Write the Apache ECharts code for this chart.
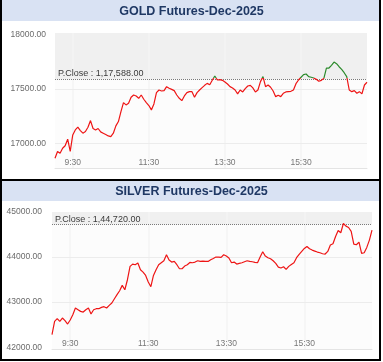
<!DOCTYPE html>
<html>
<head>
<meta charset="utf-8">
<script src="https://cdn.jsdelivr.net/npm/echarts@6/dist/echarts.min.js"></script>
<style>
html,body{margin:0;padding:0;background:#fff;}
#chart{width:383px;height:362px;}
</style>
</head>
<body>
<div id="chart"></div>
<script>
// ---- data ----
const goldTitle = 'GOLD Futures-Dec-2025';
const silverTitle = 'SILVER Futures-Dec-2025';
const goldPrevClose = 117588;
const silverPrevClose = 144720;
const timeTickLabels = ['9:30', '11:30', '13:30', '15:30'];
const goldYTicks = [117000, 117500, 118000];
const silverYTicks = [142000, 143000, 144000, 145000];
// time categories: 4-minute steps from 9:02 to 17:14
const times = [];
for (let m = 9 * 60 + 2; m <= 17 * 60 + 14; m += 4) {
  times.push(Math.floor(m / 60) + ':' + String(m % 60).padStart(2, '0'));
}
const goldPrices = [
  116863,116925,116909,116955,116977,117038,116925,117077,117123,117148,
  117117,117093,117108,117148,117209,117136,117123,117136,117105,117093,
  117081,117068,117062,117093,117160,117200,117292,117374,117353,117368,
  117423,117444,117435,117414,117444,117405,117374,117347,117307,117362,
  117466,117490,117481,117484,117521,117506,117496,117484,117444,117414,
  117392,117435,117466,117475,117475,117423,117466,117490,117512,117533,
  117551,117539,117580,117619,117582,117585,117579,117564,117545,117521,
  117509,117490,117454,117490,117472,117503,117527,117533,117509,117472,
  117490,117567,117613,117521,117536,117515,117481,117429,117441,117429,
  117460,117472,117475,117478,117490,117548,117582,117607,117631,117637,
  117613,117607,117600,117588,117570,117579,117597,117692,117692,117717,
  117747,117732,117704,117680,117649,117613,117490,117475,117484,117460,
  117475,117454,117536,117561
];
const silverPrices = [
  142280,142573,142633,142573,142647,142588,142514,142603,142721,142869,
  142832,142795,142780,142832,142869,142736,142832,142854,142854,142884,
  142899,142869,142928,142980,143076,143165,143253,143372,143275,143497,
  143793,143844,143830,143867,143719,143667,143593,143445,143342,143593,
  143719,143830,143874,143918,144051,143933,143889,143904,143830,143741,
  143741,143800,143830,143881,143874,143889,143918,143904,143911,143904,
  143904,143941,143970,144000,144000,143992,144051,144022,143978,143874,
  143889,143844,143859,143874,143896,143918,143904,143896,143881,143874,
  144000,144118,144022,143985,143963,143918,143859,143778,143756,143785,
  143726,143793,143837,143874,143985,144059,144125,144192,144236,144184,
  144155,144133,144111,144096,144074,144067,144125,144266,144295,144458,
  144591,144539,144745,144687,144657,144569,144288,144273,144332,144081,
  144096,144214,144377,144598
];

// ---- helpers ----
function inr(v) {
  const s = Math.round(v).toString();
  const last3 = s.slice(-3);
  let rest = s.slice(0, -3);
  rest = rest.replace(/\B(?=(\d{2})+(?!\d))/g, ',');
  return (rest ? rest + ',' : '') + last3 + '.00';
}
const showTime = (idx, val) => timeTickLabels.indexOf(val) >= 0;
const FONT = '"Liberation Sans", Arial, sans-serif';
const RED = '#ee1515';
const GREEN = '#2b8a2b';

// line colour split at the previous close (green above, red below), from the data extent
function splitColor(values, pclose) {
  const mx = Math.max.apply(null, values), mn = Math.min.apply(null, values);
  let f = (mx - pclose) / (mx - mn);
  f = Math.max(0, Math.min(1, f));
  return new echarts.graphic.LinearGradient(0, 0, 0, 1, [
    { offset: 0, color: GREEN }, { offset: f, color: GREEN },
    { offset: f, color: RED }, { offset: 1, color: RED }
  ]);
}

function xAxisFor(gi) {
  return {
    gridIndex: gi, type: 'category', data: times, boundaryGap: false, z: 3,
    axisLine: { show: true, lineStyle: { color: '#e4e4e4', width: 1 } },
    axisTick: { show: false },
    axisLabel: { interval: showTime, inside: true, margin: 1, color: '#777', fontSize: 8.5, fontFamily: FONT },
    splitLine: { show: true, interval: showTime, lineStyle: { color: '#f5f5f5', width: 1.5 } }
  };
}
function yAxisFor(gi, min, max, ticks, margin) {
  return {
    gridIndex: gi, type: 'value', min: min, max: max, scale: true,
    axisLine: { show: false }, axisTick: { show: false },
    splitLine: { show: false },
    axisLabel: {
      customValues: ticks, margin: margin, color: '#6b6b6b', fontSize: 8.5, fontFamily: FONT,
      padding: [0, 0, 3, 0],
      formatter: v => (v - 100000).toFixed(2)
    }
  };
}
function priceSeries(gi, values, pclose, top, gridVals) {
  const lines = gridVals.map(v => ({ yAxis: v, lineStyle: { color: '#ececec', type: 'solid', width: 1 }, label: { show: false } }));
  lines.push({
    yAxis: pclose,
    lineStyle: { color: '#7a7a7a', type: 'dotted', width: 1 },
    label: {
      show: true, position: 'insideStartTop', distance: [3, 1],
      formatter: 'P.Close : ' + inr(pclose),
      color: '#3a3a3a', fontSize: 9, fontFamily: FONT
    }
  });
  return {
    type: 'line', xAxisIndex: gi, yAxisIndex: gi, data: values, showSymbol: false, z: 5,
    lineStyle: { width: 1.2, color: splitColor(values, pclose) },
    markArea: { silent: true, z: 1, itemStyle: { color: '#f0f0f0' }, data: [[{ yAxis: pclose }, { yAxis: top }]] },
    markLine: { silent: true, z: 4, symbol: 'none', animation: false, data: lines }
  };
}

const chart = echarts.init(document.getElementById('chart'), null, { renderer: 'canvas' });
chart.setOption({
  animation: false,
  backgroundColor: '#ffffff',
  title: [
    { text: goldTitle, left: 'center', top: 5, padding: 0,
      textStyle: { color: '#1f3864', fontSize: 12.5, fontWeight: 'bold', fontFamily: FONT } },
    { text: silverTitle, left: 'center', top: 185, padding: 0,
      textStyle: { color: '#1f3864', fontSize: 12.5, fontWeight: 'bold', fontFamily: FONT } }
  ],
  graphic: [
    { type: 'rect', z: -10, shape: { x: 0, y: 0, width: 381, height: 21 }, style: { fill: '#d9e2f3' } },
    { type: 'rect', z: -10, shape: { x: 0, y: 181, width: 381, height: 20 }, style: { fill: '#d9e2f3' } },
    { type: 'rect', z: 100, shape: { x: 0, y: 179, width: 381, height: 2 }, style: { fill: '#000' } },
    { type: 'rect', z: 100, shape: { x: 0, y: 0, width: 2, height: 361 }, style: { fill: '#000' } },
    { type: 'rect', z: 100, shape: { x: 379, y: 0, width: 2, height: 361 }, style: { fill: '#000' } },
    { type: 'rect', z: 100, shape: { x: 0, y: 359, width: 381, height: 2 }, style: { fill: '#000' } }
  ],
  grid: [
    { left: 55, right: 16, top: 33, height: 135, show: true, backgroundColor: '#fcfcfc', borderWidth: 0 },
    { left: 52, right: 11, top: 212, height: 137, show: true, backgroundColor: '#fcfcfc', borderWidth: 0 }
  ],
  xAxis: [xAxisFor(0), xAxisFor(1)],
  yAxis: [
    yAxisFor(0, 116773, 118014, goldYTicks, 9),
    yAxisFor(1, 141960, 145000, silverYTicks, 10)
  ],
  series: [
    priceSeries(0, goldPrices, goldPrevClose, 118014, [117000, 117500]),
    priceSeries(1, silverPrices, silverPrevClose, 145000, [143000, 144000])
  ]
});
</script>
</body>
</html>
